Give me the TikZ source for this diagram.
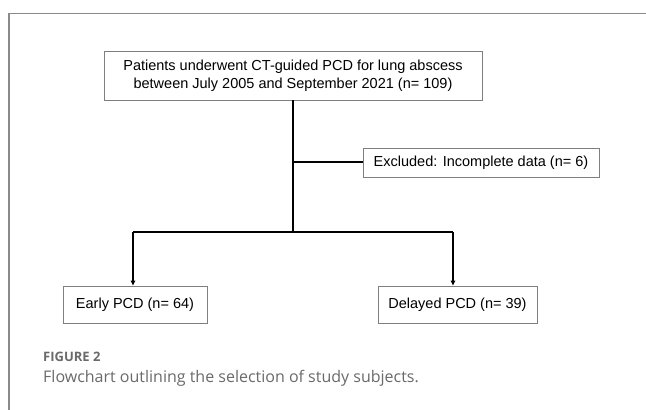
\documentclass[tikz,border=0pt]{standalone}
\usepackage{fontspec}
\setmainfont{Liberation Sans}
\newfontfamily\capfont{Open Sans}
\usetikzlibrary{arrows.meta}
\definecolor{boxgray}{HTML}{7F7F7F}
\definecolor{framegray}{HTML}{8A8A8A}
\definecolor{capgray}{HTML}{6A6A6A}
\tikzset{
  flowbox/.style={draw=boxgray, line width=0.9pt, inner sep=0pt, align=center,
    font=\fontsize{14.5}{17.5}\selectfont},
  conn/.style={line width=1.5pt, black},
  arr/.style={conn, -{Triangle[length=5pt,width=4.5pt]}},
}
\begin{document}
\begin{tikzpicture}[x=1pt,y=-1pt]
\useasboundingbox (0,0) rectangle (646,410);
\fill[white] (0,0) rectangle (646,410);
\draw[framegray, line width=1.2pt] (646,13.5) -- (9,13.5) -- (9,410);
\node[flowbox, minimum width=378pt, minimum height=49pt] (top) at (293,75.5)
  {Patients underwent CT-guided PCD for lung abscess\\between July 2005 and September 2021 (n= 109)};
\node[flowbox, minimum width=236pt, minimum height=29pt] (excl) at (481,162.5)
  {Excluded: Incomplete data (n= 6)};
\node[flowbox, minimum width=144pt, minimum height=37pt] (early) at (135,304.5)
  {Early PCD (n= 64)};
\node[flowbox, minimum width=159pt, minimum height=37pt] (delayed) at (457.5,304.5)
  {Delayed PCD (n= 39)};
\coordinate (split) at (293,232);
\coordinate (branch) at (293,162);
\coordinate (lefttop) at (133,232);
\coordinate (righttop) at (453,232);
\draw[conn] (top.south) -- (split);
\draw[conn] (branch) -- (excl.west |- branch);
\draw[conn] (lefttop) -- (righttop);
\draw[arr] (lefttop) -- (lefttop |- early.north);
\draw[arr] (righttop) -- (righttop |- delayed.north);
\node[anchor=base west, inner sep=0pt, text=capgray, font=\capfont\bfseries\fontsize{13}{15}\selectfont] (fig) at (43,361) {FIGURE 2};
\node[anchor=base west, inner sep=0pt, text=capgray, font=\capfont\fontsize{16}{18}\selectfont] (cap) at (43,382) {Flowchart outlining the selection of study subjects.};
\end{tikzpicture}
\end{document}
